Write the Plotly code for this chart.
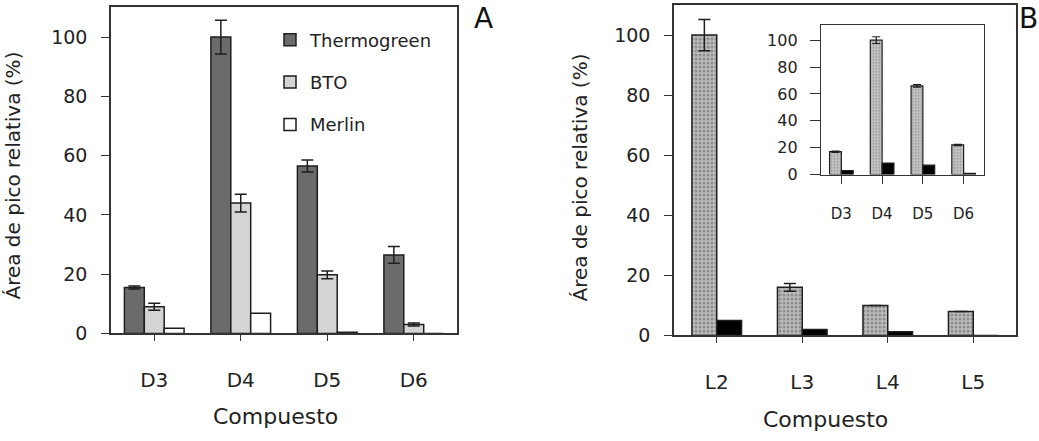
import plotly.graph_objects as go

W, H = 1039, 441

# ---------------- data ----------------
categories_a = ["D3", "D4", "D5", "D6"]
thermogreen = [15.5, 100.0, 56.5, 26.5]
thermogreen_err = [0.5, 5.7, 2.0, 2.8]
bto = [9.0, 44.0, 19.8, 3.0]
bto_err = [1.2, 3.0, 1.3, 0.5]
merlin = [1.8, 6.8, 0.4, 0.0]

categories_b = ["L2", "L3", "L4", "L5"]
b_pattern = [100.0, 16.0, 10.0, 8.0]
b_pattern_err = [5.2, 1.3, 0.0, 0.0]
b_black = [5.0, 2.0, 1.2, 0.0]

categories_inset = ["D3", "D4", "D5", "D6"]
inset_pattern = [17.0, 100.0, 66.0, 22.0]
inset_pattern_err = [0.5, 2.5, 1.0, 0.5]
inset_black = [3.0, 8.5, 7.0, 0.8]

y_ticks = [0, 20, 40, 60, 80, 100]

# ---------------- styles ----------------
FONT = "DejaVu Sans"
TXT = "#222222"
LINE = "#333333"
OUT = dict(color="#1e1e1e", width=1.5)


def fx(p):
    return p / W


def fy(p):
    return 1 - p / H


def err(vals):
    return dict(type="data", array=vals, visible=True, color="#1e1e1e", thickness=1.5, width=6)


fig = go.Figure()

# Panel A
wa = 0.23
fig.add_trace(go.Bar(x=categories_a, y=thermogreen, name="Thermogreen", legendgroup="a",
                     marker=dict(color="#6b6b6b", line=OUT), width=wa, offset=-1.5 * wa,
                     error_y=err(thermogreen_err), xaxis="x", yaxis="y"))
fig.add_trace(go.Bar(x=categories_a, y=bto, name="BTO", legendgroup="b",
                     marker=dict(color="#d4d4d4", line=OUT), width=wa, offset=-0.5 * wa,
                     error_y=err(bto_err), xaxis="x", yaxis="y"))
fig.add_trace(go.Bar(x=categories_a, y=merlin, name="Merlin", legendgroup="c",
                     marker=dict(color="#ffffff", line=OUT), width=wa, offset=0.5 * wa,
                     xaxis="x", yaxis="y"))

PAT = dict(shape=".", bgcolor="#bdbdbd", fgcolor="#5e5e5e", size=4, solidity=0.45)

# Panel B
wb = 0.29
fig.add_trace(go.Bar(x=categories_b, y=b_pattern, showlegend=False,
                     marker=dict(color="#bdbdbd", line=OUT, pattern=PAT), width=wb, offset=-wb,
                     error_y=err(b_pattern_err), xaxis="x2", yaxis="y2"))
fig.add_trace(go.Bar(x=categories_b, y=b_black, showlegend=False,
                     marker=dict(color="#000000", line=OUT), width=wb, offset=0,
                     xaxis="x2", yaxis="y2"))

# Inset
wi = 0.29
fig.add_trace(go.Bar(x=categories_inset, y=inset_pattern, showlegend=False,
                     marker=dict(color="#c4c4c4", line=dict(color="#1e1e1e", width=1.2),
                                 pattern=dict(shape=".", bgcolor="#c8c8c8", fgcolor="#6a6a6a",
                                              size=3, solidity=0.4)),
                     width=wi, offset=-wi,
                     error_y=dict(type="data", array=inset_pattern_err, visible=True,
                                  color="#1e1e1e", thickness=1.2, width=4),
                     xaxis="x3", yaxis="y3"))
fig.add_trace(go.Bar(x=categories_inset, y=inset_black, showlegend=False,
                     marker=dict(color="#000000", line=dict(color="#1e1e1e", width=1.2)),
                     width=wi, offset=0, xaxis="x3", yaxis="y3"))


def xax(d0, d1, anchor, size, standoff, ticklen=6, lw=1.6):
    return dict(domain=[fx(d0), fx(d1)], anchor=anchor, type="category", range=[-0.5, 3.5],
                showline=True, linecolor=LINE, linewidth=lw, mirror=True,
                ticks="outside", ticklen=ticklen, tickwidth=1.3, tickcolor=LINE,
                tickfont=dict(size=size, color=TXT, family=FONT),
                ticklabelstandoff=standoff, showgrid=False, zeroline=False, fixedrange=True)


def yax(b0, t0, anchor, rng, size, standoff, ticklen=8, lw=1.6):
    return dict(domain=[fy(b0), fy(t0)], anchor=anchor, range=rng, tickmode="array",
                tickvals=y_ticks, showline=True, linecolor=LINE, linewidth=lw, mirror=True,
                ticks="outside", ticklen=ticklen, tickwidth=1.3, tickcolor=LINE,
                tickfont=dict(size=size, color=TXT, family=FONT),
                ticklabelstandoff=standoff, showgrid=False, zeroline=False, fixedrange=True)


fig.update_layout(
    width=W, height=H, margin=dict(l=0, r=0, t=0, b=0),
    paper_bgcolor="white", plot_bgcolor="white",
    barmode="overlay",
    font=dict(family=FONT, color=TXT, size=18),
    xaxis=xax(111, 457, "y", 20, 22),
    yaxis=yax(342, 7.6, "x", [0, 110], 19, 10),
    xaxis2=xax(674, 1016, "y2", 20, 22),
    yaxis2=yax(344, 5.2, "x2", [0, 110], 19, 10),
    xaxis3=xax(821, 984, "y3", 15, 17, ticklen=8, lw=1.4),
    yaxis3=yax(179, 26, "x3", [0, 111], 16, 9, ticklen=10, lw=1.4),
    legend=dict(x=fx(270), y=fy(22), xanchor="left", yanchor="top",
                font=dict(size=18, color=TXT, family=FONT), bgcolor="rgba(0,0,0,0)",
                tracegroupgap=16, traceorder="grouped"),
    annotations=[
        dict(text="A", x=fx(483), y=fy(19), xref="paper", yref="paper", showarrow=False,
             font=dict(size=28, color="#111"), xanchor="center", yanchor="middle"),
        dict(text="B", x=fx(1028), y=fy(19), xref="paper", yref="paper", showarrow=False,
             font=dict(size=28, color="#111"), xanchor="center", yanchor="middle"),
        dict(text="Área de pico relativa (%)", x=fx(13), y=fy(180), xref="paper", yref="paper",
             showarrow=False, textangle=-90, font=dict(size=20, color=TXT),
             xanchor="center", yanchor="middle"),
        dict(text="Área de pico relativa (%)", x=fx(580), y=fy(182), xref="paper", yref="paper",
             showarrow=False, textangle=-90, font=dict(size=20, color=TXT),
             xanchor="center", yanchor="middle"),
        dict(text="Compuesto", x=fx(275), y=fy(427), xref="paper", yref="paper",
             showarrow=False, font=dict(size=22, color=TXT), xanchor="center", yanchor="middle"),
        dict(text="Compuesto", x=fx(825), y=fy(430), xref="paper", yref="paper",
             showarrow=False, font=dict(size=22, color=TXT), xanchor="center", yanchor="middle"),
    ],
)

fig.write_html("out.html")
